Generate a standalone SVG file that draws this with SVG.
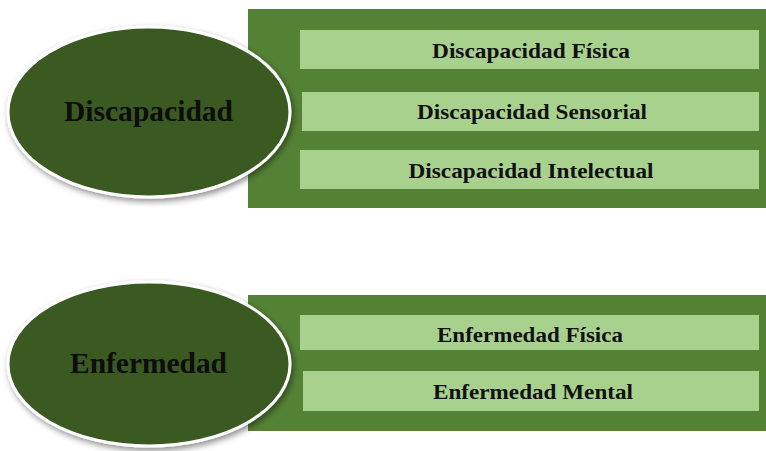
<svg xmlns="http://www.w3.org/2000/svg" width="766" height="451" viewBox="0 0 766 451">
<style>
.panel{fill:#548235}
.bar{fill:#a9d18e}
.oval{fill:#3a5a24;stroke:#ffffff;stroke-width:3}
.big{font-family:"Liberation Serif",serif;font-weight:bold;font-size:30px;fill:#0d0d0d;text-anchor:middle}
.lbl{font-family:"Liberation Serif",serif;font-weight:bold;font-size:22px;fill:#111;text-anchor:middle}
</style>
<defs>
<filter id="sh" x="-10%" y="-10%" width="125%" height="130%">
<feGaussianBlur in="SourceAlpha" stdDeviation="3"/>
<feOffset dx="2" dy="3" result="b"/>
<feComponentTransfer><feFuncA type="linear" slope="0.45"/></feComponentTransfer>
<feMerge><feMergeNode/><feMergeNode in="SourceGraphic"/></feMerge>
</filter>
</defs>
<rect width="766" height="451" fill="#ffffff"/>
<g id="group-discapacidad">
<rect class="panel" x="248" y="9" width="518" height="199"/>
<g id="discapacidad-fisica"><rect class="bar" x="300" y="30" width="459" height="39"/><text class="lbl" x="531" y="58" textLength="198" lengthAdjust="spacingAndGlyphs">Discapacidad Física</text></g>
<g id="discapacidad-sensorial"><rect class="bar" x="302" y="92" width="457" height="39"/><text class="lbl" x="532" y="119" textLength="230" lengthAdjust="spacingAndGlyphs">Discapacidad Sensorial</text></g>
<g id="discapacidad-intelectual"><rect class="bar" x="300" y="150" width="459" height="39"/><text class="lbl" x="531" y="178" textLength="245" lengthAdjust="spacingAndGlyphs">Discapacidad Intelectual</text></g>
<g id="discapacidad"><ellipse class="oval" cx="149" cy="112" rx="141" ry="85" filter="url(#sh)"/><text class="big" x="148.5" y="121" textLength="169" lengthAdjust="spacingAndGlyphs">Discapacidad</text></g>
</g>
<g id="group-enfermedad">
<rect class="panel" x="248" y="295" width="518" height="136"/>
<g id="enfermedad-fisica"><rect class="bar" x="300" y="315" width="459" height="35"/><text class="lbl" x="530" y="342" textLength="186" lengthAdjust="spacingAndGlyphs">Enfermedad Física</text></g>
<g id="enfermedad-mental"><rect class="bar" x="303" y="371" width="456" height="40"/><text class="lbl" x="533" y="399" textLength="200" lengthAdjust="spacingAndGlyphs">Enfermedad Mental</text></g>
<g id="enfermedad"><ellipse class="oval" cx="149" cy="364" rx="141" ry="82" filter="url(#sh)"/><text class="big" x="148.5" y="373" textLength="157" lengthAdjust="spacingAndGlyphs">Enfermedad</text></g>
</g>
<g id="connectors"/>
</svg>
